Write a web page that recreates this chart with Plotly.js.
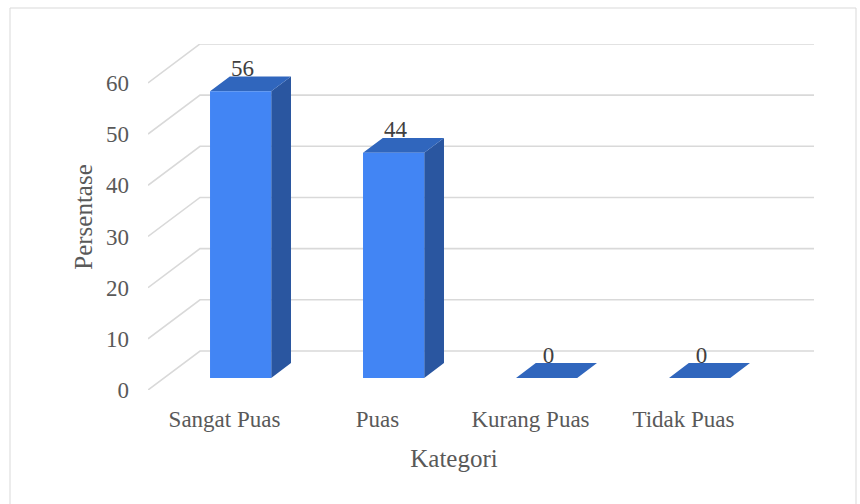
<!DOCTYPE html>
<html>
<head>
<meta charset="utf-8">
<script src="https://cdn.plot.ly/plotly-3.0.1.min.js"></script>
<style>
  html, body { margin: 0; padding: 0; background: #ffffff; }
  #chart { width: 860px; height: 504px; }
</style>
</head>
<body>
<div id="chart"></div>
<script>
// ---- data ----
const categories = ['Sangat Puas', 'Puas', 'Kurang Puas', 'Tidak Puas'];
const values = [56, 44, 0, 0];
const yTickValues = [0, 10, 20, 30, 40, 50, 60];

// ---- 3D look (styles, in axis units) ----
const DEPTH_X = 0.34;      // wall depth along x (category units)
const DEPTH_Y = 7.62;      // wall depth along y (value units)
const BAR_FRONT = 0.31;    // bar front face depth fraction
const BAR_BACK = 0.69;     // bar back face depth fraction
const BAR_W = 0.40;        // bar width (category units)
const X_MIN = -0.5, X_MAX = 3.853, Y_MAX = 67.6;

const FONT = 'Liberation Serif';
const GRID = '#d9d9d9';

const traces = [];

// gridlines: side wall diagonals + back wall horizontals
const gx = [], gy = [];
yTickValues.forEach(v => {
  gx.push(X_MIN, X_MIN + DEPTH_X, X_MAX, null);
  gy.push(v, v + DEPTH_Y, v + DEPTH_Y, null);
});
traces.push({x: gx, y: gy, mode: 'lines', line: {color: GRID, width: 1.6},
  hoverinfo: 'skip', showlegend: false, xaxis: 'x', yaxis: 'y'});

// bar faces
const faceFront = {x: [], y: []}, faceSide = {x: [], y: []}, faceTop = {x: [], y: []};
const bx = (BAR_BACK - BAR_FRONT) * DEPTH_X, by = (BAR_BACK - BAR_FRONT) * DEPTH_Y;
const labelX = [], labelY = [];
values.forEach((v, i) => {
  const cx = i + BAR_FRONT * DEPTH_X;
  const y0 = BAR_FRONT * DEPTH_Y;
  const l = cx - BAR_W / 2, r = cx + BAR_W / 2;
  if (v > 0) {
    faceFront.x.push(l, r, r, l, l, null); faceFront.y.push(y0, y0, y0 + v, y0 + v, y0, null);
    faceSide.x.push(r, r + bx, r + bx, r, r, null); faceSide.y.push(y0, y0 + by, y0 + v + by, y0 + v, y0, null);
  }
  faceTop.x.push(l, r, r + bx, l + bx, l, null);
  faceTop.y.push(y0 + v, y0 + v, y0 + v + by, y0 + v + by, y0 + v, null);
  labelX.push(cx + bx * 0.1);
  labelY.push(y0 + v + by * 0.65);
});
[[faceSide, '#2a56a0'], [faceTop, '#3066bd'], [faceFront, '#4285f4']].forEach(([f, c]) => {
  traces.push({x: f.x, y: f.y, mode: 'lines', fill: 'toself', fillcolor: c,
    line: {width: 0, color: c}, hoverinfo: 'skip', showlegend: false, xaxis: 'x', yaxis: 'y'});
});

// data labels (on the category axis)
traces.push({x: labelX, y: labelY, mode: 'text', text: values.map(String),
  textposition: 'top center', textfont: {family: FONT, size: 23, color: '#404040'},
  cliponaxis: false, hoverinfo: 'skip', showlegend: false, xaxis: 'x2', yaxis: 'y'});

const L = 148, R = 46, T = 44, B = 114;
const plotW = 860 - L - R, plotH = 504 - T - B;

const layout = {
  width: 860, height: 504,
  margin: {l: L, r: R, t: T, b: B, pad: 0},
  paper_bgcolor: '#ffffff', plot_bgcolor: 'rgba(0,0,0,0)',
  showlegend: false, hovermode: false,
  font: {family: FONT, color: '#595959'},
  xaxis: {domain: [0, 1], range: [X_MIN, X_MAX], visible: false, fixedrange: true},
  xaxis2: {domain: [0, 4 / (X_MAX - X_MIN)], anchor: 'y',
    range: [-0.5, 3.5], tickvals: [0, 1, 2, 3], ticktext: categories,
    showgrid: false, zeroline: false, showline: false, ticks: '',
    ticklabelstandoff: 13,
    tickfont: {family: FONT, size: 23, color: '#595959'},
    title: {text: 'Kategori', font: {family: FONT, size: 25, color: '#595959'}, standoff: 18},
    fixedrange: true},
  yaxis: {range: [0, Y_MAX], tickvals: yTickValues, showgrid: false, zeroline: false,
    showline: false, ticks: '', ticklabelstandoff: 18,
    tickfont: {family: FONT, size: 23, color: '#595959'},
    title: {text: 'Persentase', font: {family: FONT, size: 25, color: '#595959'}, standoff: 6},
    fixedrange: true},
  shapes: [{type: 'rect', xref: 'paper', yref: 'paper',
    x0: (10 - L) / plotW, x1: (856 - L) / plotW,
    y0: (T + plotH - 512) / plotH, y1: (T + plotH - 8) / plotH,
    line: {color: '#d9d9d9', width: 1}, fillcolor: 'rgba(0,0,0,0)', layer: 'below'}]
};

Plotly.newPlot('chart', traces, layout, {displayModeBar: false, staticPlot: true});
</script>
</body>
</html>
